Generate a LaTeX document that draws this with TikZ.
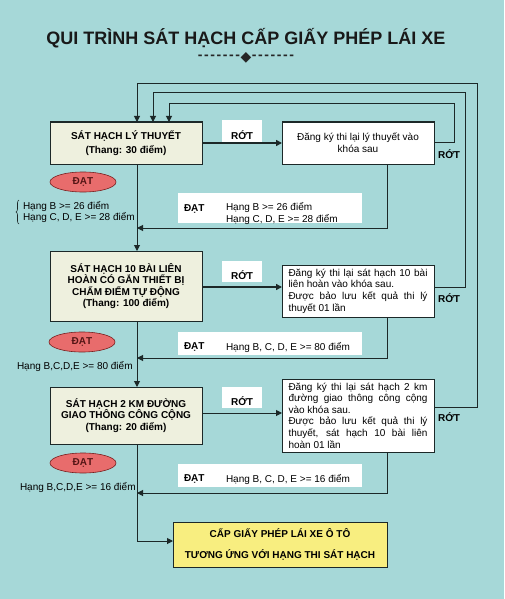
\documentclass[tikz,border=0pt]{standalone}
\usepackage{fontspec}
\setmainfont{Liberation Sans}
\newfontfamily\symfont{DejaVu Sans}
\usetikzlibrary{arrows.meta,shapes.geometric,decorations.pathreplacing}
\setlength{\parindent}{0pt}
\definecolor{bgc}{RGB}{166,216,216}
\definecolor{lnc}{RGB}{28,40,40}
\definecolor{beige}{RGB}{238,240,222}
\definecolor{pinkred}{RGB}{232,108,108}
\definecolor{darkred}{RGB}{120,30,30}
\definecolor{yel}{RGB}{248,238,128}
\newcommand{\dk}{-\kern1.6pt}
\begin{document}
\begin{tikzpicture}[x=1pt,y=-1pt,
  every node/.style={inner sep=0pt, outer sep=0pt},
  f/.style={font=\fontsize{10}{11.6}\selectfont},
  fb/.style={font=\fontsize{10}{11.6}\selectfont\bfseries},
  mainbox/.style={draw=lnc, line width=1pt, fill=beige, minimum width=152pt, align=center, fb},
  sidebox/.style={draw=lnc, line width=1pt, fill=white, minimum width=152pt, f},
  conn/.style={draw=lnc, line width=1pt},
  arr/.style={conn, -{Triangle[length=6pt,width=6pt]}},
  arrthick/.style={arr, line width=2pt},
  rotlbl/.style={fill=white, minimum width=40pt, text height=18pt, text depth=1.5pt, inner ysep=1pt, fb},
  okbox/.style={fill=white, minimum width=184pt},
  pill/.style={ellipse, draw=darkred, line width=0.6pt, fill=pinkred, minimum width=66pt, minimum height=20pt, fb, text=darkred!70!black}
]
\fill[bgc] (0,0) rectangle (504,599);
\useasboundingbox (0,0) rectangle (504,599);

% title
\node[font=\fontsize{18}{20}\selectfont\bfseries, text=black!90] (title) at (246,38) {QUI TRÌNH SÁT HẠCH CẤP GIẤY PHÉP LÁI XE};
\node[font=\fontsize{14}{14}\selectfont\bfseries, text=black!85, text height=6pt, text depth=1pt] (divider) at (246,57.5) {\dk\dk\dk\dk\dk\dk-\kern0.5pt\raisebox{-1.2pt}{\symfont\fontsize{14}{14}\selectfont ◆}\kern0.5pt\dk\dk\dk\dk\dk\dk-};

% helper coordinates
\coordinate (mx) at (137,0);
\coordinate (in2) at (153,0);
\coordinate (in1) at (169,0);
\coordinate (rx) at (387,0);
\coordinate (L1) at (454,104);
\coordinate (L2) at (465,93);
\coordinate (L3) at (477,84);
\coordinate (y1) at (0,142);
\coordinate (ay2) at (0,287);
\coordinate (ay3) at (0,413);
\coordinate (y3) at (0,407);
\coordinate (j1) at (137,228);
\coordinate (j2) at (137,358);
\coordinate (j3) at (137,493);
\coordinate (fy) at (0,541);

% main boxes
\node[mainbox, minimum height=42pt] (b1) at (126,143) {SÁT HẠCH LÝ THUYẾT\\[2pt](Thang: 30 điểm)};
\node[sidebox, minimum height=42pt, align=center] (b1r) at (358,143) {Đăng ký thi lại lý thuyết vào\\khóa sau};

\node[mainbox, minimum height=70pt] (b2) at (126,286) {SÁT HẠCH 10 BÀI LIÊN\\HOÀN CÓ GẮN THIẾT BỊ\\CHẤM ĐIỂM TỰ ĐỘNG\\(Thang: 100 điểm)};
\node[sidebox, minimum height=52pt, text width=139pt, align=justify] (b2r) at (358,291) {Đăng ký thi lại sát hạch 10 bài\linebreak liên hoàn vào khóa sau.\par Được bảo lưu kết quả thi lý\linebreak thuyết 01 lần};

\node[mainbox, minimum height=57pt] (b3) at (126,415.5) {SÁT HẠCH 2 KM ĐƯỜNG\\GIAO THÔNG CÔNG CỘNG\\(Thang: 20 điểm)};
\node[sidebox, minimum height=73pt, text width=139pt, align=justify] (b3r) at (358,415.5) {Đăng ký thi lại sát hạch 2 km\linebreak đường giao thông công cộng\linebreak vào khóa sau.\par Được bảo lưu kết quả thi lý\linebreak thuyết, sát hạch 10 bài liên\linebreak hoàn 01 lần};

\node[draw=lnc, line width=1pt, fill=yel, minimum width=214pt, minimum height=45pt, align=center, fb] (fin) at (280,544.5) {CẤP GIẤY PHÉP LÁI XE Ô TÔ\\[9pt]TƯƠNG ỨNG VỚI HẠNG THI SÁT HẠCH};

% ROT labels
\node[rotlbl, anchor=base] (r1) at (242,139.5) {RỚT};
\node[rotlbl, anchor=base] (r2) at (242,279.5) {RỚT};
\node[rotlbl, anchor=base] (r3) at (242,405.5) {RỚT};
\node[fb] (rr1) at (449,154) {RỚT};
\node[fb] (rr2) at (449,298) {RỚT};
\node[fb] (rr3) at (449,417) {RỚT};

% DAT boxes
\node[okbox, minimum height=30pt] (ok1) at (270,208) {};
\node[fb, anchor=west] (ok1a) at (184,209) {ĐẠT};
\node[f, anchor=west] (ok1b) at (226,208) {Hạng B >= 26 điểm};
\node[f, anchor=west] (ok1c) at (226,219.5) {Hạng C, D, E >= 28 điểm};

\node[okbox, minimum height=23pt] (ok2) at (270,343.5) {};
\node[fb, anchor=west] (ok2a) at (184,347) {ĐẠT};
\node[f, anchor=west] (ok2b) at (226,347) {Hạng B, C, D, E >= 80 điểm};

\node[okbox, minimum height=23pt] (ok3) at (270,475.5) {};
\node[fb, anchor=west] (ok3a) at (184,479) {ĐẠT};
\node[f, anchor=west] (ok3b) at (226,479) {Hạng B, C, D, E >= 16 điểm};

% pills
\node[pill] (p1) at (83,182) {ĐẠT};
\node[pill] (p2) at (82,342) {ĐẠT};
\node[pill] (p3) at (83,463) {ĐẠT};

% side labels
\node[f, anchor=west] (s1a) at (23,206.5) {Hạng B >= 26 điểm};
\node[f, anchor=west] (s1b) at (23,217.5) {Hạng C, D, E >= 28 điểm};
\draw[lnc, line width=0.6pt, decorate, decoration={brace, amplitude=3pt}] (19,224) -- (19,200);
\node[f, anchor=west] (s2) at (17,366.5) {Hạng B,C,D,E >= 80 điểm};
\node[f, anchor=west] (s3) at (20,487) {Hạng B,C,D,E >= 16 điểm};

% connectors
\draw[arr] (b1.south -| mx) -- (b2.north -| mx);
\draw[arr] (b2.south -| mx) -- (b3.north -| mx);
\draw[arr] (b3.south -| mx) |- (fin.west |- fy);

\draw[arrthick] (b1.east) -- (b1r.west);
\draw[arrthick] (b2.east |- ay2) -- (b2r.west |- ay2);
\draw[arr] (b3.east |- ay3) -- (b3r.west |- ay3);

\draw[arr] (b1r.south -| rx) |- (j1);
\draw[arr] (b2r.south -| rx) |- (j2);
\draw[arr] (b3r.south -| rx) |- (j3);

\draw[arr] (b1r.east |- y1) -| (L1) -| (b1.north -| in1);
\draw[arr] (b2r.east |- ay2) -| (L2) -| (b1.north -| in2);
\draw[arr] (b3r.east |- y3) -| (L3) -| (b1.north -| mx);
\end{tikzpicture}
\end{document}
